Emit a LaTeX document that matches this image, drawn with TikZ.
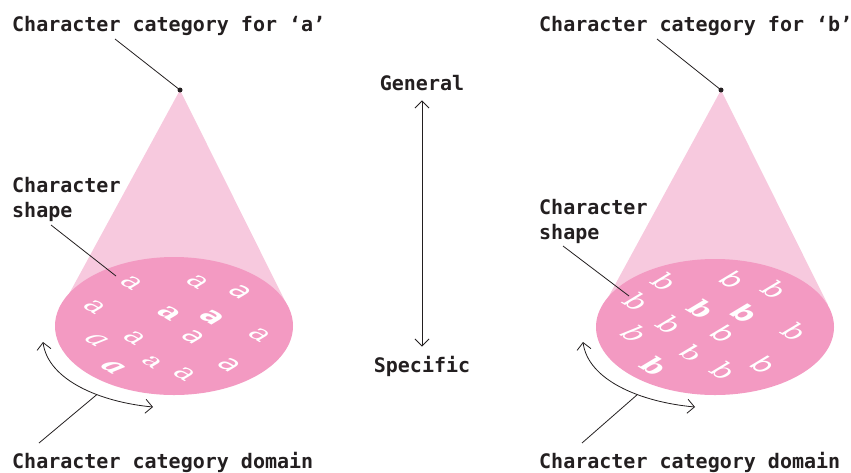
\documentclass[tikz,border=0pt]{standalone}
\usepackage{fontspec}
\setmonofont{DejaVu Sans Mono}
\newfontfamily\glyphserif{DejaVu Serif}
\newfontfamily\glyphsans{DejaVu Sans}
\usetikzlibrary{arrows.meta}
\definecolor{conepink}{RGB}{247,201,222}
\definecolor{diskpink}{RGB}{243,154,194}
\definecolor{inkgray}{RGB}{35,31,32}
\newcommand{\gR}{\glyphserif}
\newcommand{\gL}{\rmfamily\bfseries}
\newcommand{\gB}{\glyphserif\bfseries}
\newcommand{\gH}{\glyphsans\bfseries}
\newcommand{\gI}{\glyphserif\itshape}
\newcommand{\gS}{\glyphsans}
\newcommand{\gK}{\glyphserif\bfseries\itshape}
\tikzset{
  label text/.style={font=\ttfamily\bfseries\fontsize{20}{25}\selectfont, text=inkgray, inner sep=0pt, anchor=base west, align=left},
  leader/.style={draw=inkgray, line width=0.8pt},
  glyph/.style={text=white, inner sep=0pt, font=\fontsize{34}{34}\selectfont, yscale=0.6, rotate=-45},
  span/.style={leader, {Straight Barb[length=7pt,width=14pt]}-{Straight Barb[length=7pt,width=14pt]}},
}

\begin{document}
\begin{tikzpicture}[x=1pt,y=-1pt]
\useasboundingbox (0,0) rectangle (851,472);

% category a
\coordinate (apexA) at (180,90);
\fill[conepink] (apexA) -- (63,305) -- (287,305) -- cycle;
\fill[diskpink] (174,326) ellipse [x radius=119pt, y radius=69pt];
\foreach \x/\y/\fnt in {132/283/\gR, 198/282/\gR, 240/292/\gS, 95/307/\gR, 170/313/\gB, 212/317/\gH, 260/335/\gR,
  193/337/\gS, 97/340/\gI, 135/338/\gR, 114/367/\gK, 152/362/\gL, 185/374/\gR, 229/365/\gS}
  \node[glyph] at (\x,\y) {\fnt a};
\fill[inkgray] (apexA) circle [radius=2.5pt];

\node[label text] (catA) at (12,31) {Character category for ‘a’};
\coordinate (catAfoot) at (115,39);
\draw[leader] (catAfoot) -- (apexA);

\node[label text] (shapeA) at (12,217) {Character\\shape};
\coordinate (shapeAfoot) at (51,225);
\coordinate (shapeAtip) at (116,276);
\draw[leader] (shapeAfoot) -- (shapeAtip);

\draw[span] (43,342) .. controls (48,380) and (100,402) .. coordinate[pos=0.63] (arcA) (153,407);
\node[label text] (domainA) at (12,468) {Character category domain};
\coordinate (domainAfoot) at (39,443);
\draw[leader] (domainAfoot) -- (arcA);

% category b
\coordinate (apexB) at (721,90);
\fill[conepink] (apexB) -- (604,305) -- (828,305) -- cycle;
\fill[diskpink] (715,327) ellipse [x radius=119pt, y radius=68pt];
\foreach \x/\y/\fnt in {665/282/\gR, 733/280/\gS, 775/290/\gR, 637/302/\gR, 702/309/\gB, 745/313/\gH, 635/334/\gI,
  670/325/\gR, 724/334/\gS, 795/332/\gR, 692/353/\gL, 655/366/\gB, 724/371/\gR, 764/365/\gS}
  \node[glyph] at (\x,\y) {\fnt b};
\fill[inkgray] (apexB) circle [radius=2.5pt];

\node[label text] (catB) at (539,31) {Character category for ‘b’};
\coordinate (catBfoot) at (657,39);
\draw[leader] (catBfoot) -- (apexB);

\node[label text] (shapeB) at (539,239) {Character\\shape};
\coordinate (shapeBfoot) at (563,246);
\coordinate (shapeBtip) at (629,296);
\draw[leader] (shapeBfoot) -- (shapeBtip);

\draw[span] (583,342) .. controls (588,380) and (640,402) .. coordinate[pos=0.63] (arcB) (695,407);
\node[label text] (domainB) at (539,468) {Character category domain};
\coordinate (domainBfoot) at (582,443);
\draw[leader] (domainBfoot) -- (arcB);

% scale
\node[label text, anchor=base] (general) at (422,90) {General};
\node[label text, anchor=base] (specific) at (422,372) {Specific};
\draw[span, shorten <=10pt, shorten >=9pt] (general.south) -- (specific.north);
\end{tikzpicture}
\end{document}
